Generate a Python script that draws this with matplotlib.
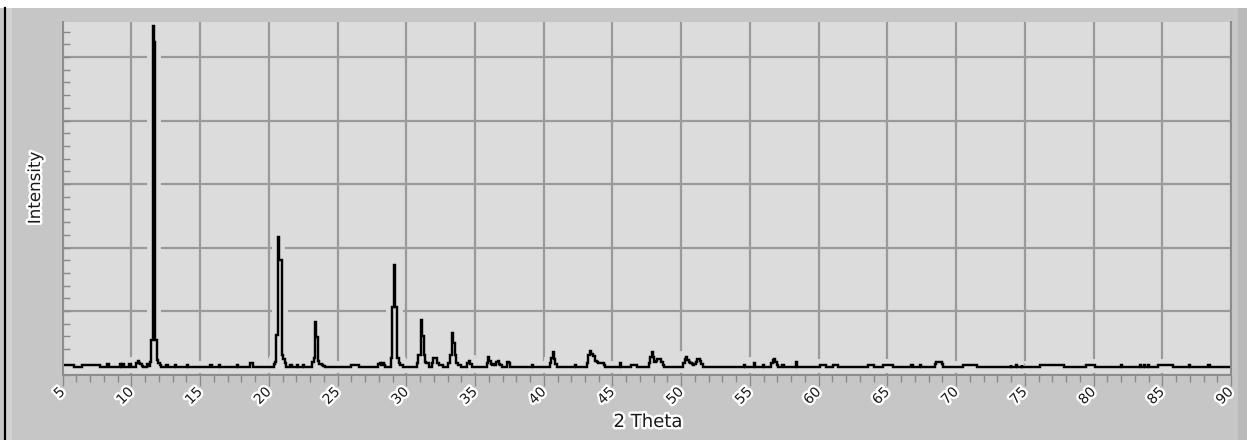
import matplotlib
matplotlib.use("Agg")
import matplotlib.pyplot as plt
import matplotlib.patheffects as pe
from matplotlib.ticker import MultipleLocator
from matplotlib.lines import Line2D
from matplotlib.patches import Rectangle

two_theta = [
    5.0, 5.8, 5.85,
    6.35, 6.4, 7.7, 7.75,
    8.2, 8.3, 8.4,
    9.1, 9.2, 9.3, 9.4, 9.5,
    9.8, 9.9, 10.0,
    10.3, 10.4, 10.5, 10.6, 10.7, 10.8, 10.9,
    11.1, 11.2, 11.3,
    11.4, 11.5, 11.6, 11.7, 11.8, 11.9, 12.0, 12.1, 12.2,
    12.5, 12.6, 12.7,
    13.1, 13.2, 13.3,
    14.0, 14.1, 14.2,
    15.7, 15.8, 15.9,
    16.3, 16.4, 16.5,
    17.6, 17.7, 17.8,
    18.6, 18.7, 18.8, 18.9,
    20.3, 20.4, 20.5, 20.6, 20.7, 20.8, 20.9, 21.0, 21.1, 21.2, 21.3,
    21.5, 21.6, 21.7,
    22.0, 22.1, 22.2,
    22.4, 22.5, 22.6,
    23.1, 23.2, 23.3, 23.4, 23.5, 23.6, 23.7, 23.8, 23.9, 24.0, 24.1,
    25.95, 26.0, 26.5, 26.55,
    27.9, 28.0, 28.1, 28.2, 28.3, 28.4, 28.5,
    28.8, 28.9, 29.0, 29.1, 29.16, 29.22, 29.3, 29.4, 29.5, 29.6, 29.7, 29.8,
    30.7, 30.8, 30.9, 31.0, 31.08, 31.16, 31.24, 31.3, 31.4, 31.5, 31.6, 31.7,
    31.8, 31.9, 32.0, 32.1, 32.2, 32.3, 32.4, 32.5, 32.6, 32.7,
    33.0, 33.1, 33.2, 33.3, 33.38, 33.45, 33.52, 33.6, 33.7, 33.8, 33.9, 34.0,
    34.4, 34.5, 34.6, 34.7, 34.8,
    35.8, 35.9, 36.0, 36.1, 36.2, 36.3, 36.4, 36.5, 36.6, 36.7, 36.8, 36.9, 37.0,
    37.3, 37.4, 37.5, 37.6,
    39.1, 39.2, 39.3,
    40.4, 40.5, 40.6, 40.7, 40.8, 40.9, 41.0,
    42.2, 42.3, 42.4,
    43.1, 43.2, 43.3, 43.4, 43.5, 43.6, 43.7, 43.8, 43.9, 44.0, 44.1, 44.2, 44.3, 44.4, 44.5,
    45.5, 45.6, 45.7,
    46.35, 46.4, 46.75, 46.8,
    47.6, 47.7, 47.8, 47.9, 48.0, 48.1, 48.2, 48.3, 48.4, 48.5, 48.6, 48.7, 48.8,
    50.1, 50.2, 50.3, 50.4, 50.5, 50.6, 50.7, 50.8, 50.9, 51.0, 51.1, 51.2, 51.3, 51.4, 51.5, 51.6,
    54.5, 54.6, 54.7,
    55.25, 55.35, 55.45,
    55.9, 56.0, 56.1,
    56.5, 56.6, 56.7, 56.8, 56.9, 57.0, 57.1,
    57.3, 57.4, 57.5,
    58.3, 58.4, 58.5,
    60.05, 60.1, 60.5, 60.55,
    61.0, 61.05, 61.35, 61.4,
    63.55, 63.6, 64.0, 64.05,
    64.65, 64.7, 65.4, 65.45,
    66.7, 66.8, 66.9,
    67.3, 67.4, 67.5,
    68.4, 68.5, 68.6, 68.7, 68.8, 68.9, 69.0, 69.1,
    70.45, 70.5, 71.5, 71.55,
    73.95, 74.0, 74.05, 74.35, 74.4, 74.45, 74.75, 74.8, 74.85,
    76.05, 76.1, 77.8, 77.85,
    79.45, 79.5, 80.1, 80.15,
    81.95, 82.05, 82.15,
    83.35, 83.4, 83.45, 83.65, 83.7, 83.75, 83.95, 84.0, 84.05,
    84.65, 84.7, 85.75, 85.8,
    86.9, 87.0, 87.1,
    88.3, 88.4, 88.5,
    90.0,
]

intensity = [
    146, 146, 126,
    126, 146, 146, 126,
    126, 165, 126,
    126, 160, 126, 160, 126,
    126, 165, 126,
    126, 180, 217, 175, 160, 140, 126,
    126, 165, 140,
    190, 543, 5493, 5241, 543, 230, 180, 150, 126,
    126, 150, 126,
    126, 150, 126,
    126, 155, 126,
    126, 150, 126,
    126, 150, 126,
    126, 155, 126,
    126, 176, 176, 126,
    126, 160, 200, 622, 2170, 1803, 1803, 307, 250, 180, 126,
    126, 145, 126,
    126, 145, 126,
    126, 145, 126,
    126, 200, 260, 831, 586, 220, 170, 160, 150, 140, 126,
    126, 146, 146, 126,
    126, 170, 181, 150, 181, 150, 126,
    126, 254, 1068, 1068, 1724, 1068, 1068, 254, 180, 155, 150, 126,
    126, 180, 307, 307, 858, 606, 606, 307, 200, 176, 176, 126,
    126, 180, 255, 255, 255, 180, 150, 150, 150, 126,
    126, 180, 307, 307, 649, 491, 491, 307, 180, 150, 150, 126,
    126, 180, 220, 160, 126,
    126, 180, 279, 220, 170, 150, 160, 150, 190, 205, 160, 150, 126,
    126, 190, 184, 126,
    126, 150, 126,
    126, 180, 260, 351, 250, 170, 126,
    126, 150, 126,
    126, 180, 300, 378, 330, 288, 288, 220, 190, 180, 180, 176, 176, 150, 126,
    126, 176, 126,
    126, 146, 146, 126,
    126, 180, 280, 351, 280, 200, 220, 240, 247, 240, 200, 150, 126,
    126, 180, 250, 279, 230, 200, 180, 160, 155, 160, 200, 240, 247, 220, 160, 126,
    126, 150, 126,
    126, 176, 126,
    126, 150, 126,
    126, 180, 230, 247, 200, 150, 126,
    126, 150, 126,
    126, 194, 126,
    126, 146, 146, 126,
    126, 146, 146, 126,
    126, 146, 146, 126,
    126, 146, 146, 126,
    126, 150, 126,
    126, 150, 126,
    126, 170, 190, 200, 200, 190, 170, 126,
    126, 146, 146, 126,
    126, 155, 126, 126, 155, 126, 126, 155, 126,
    126, 146, 146, 126,
    126, 146, 146, 126,
    126, 150, 126,
    126, 155, 126, 126, 155, 126, 126, 155, 126,
    126, 146, 146, 126,
    126, 155, 126,
    126, 155, 126,
    126,
]

x_ticks = list(range(5, 91, 5))
x_tick_labels = [str(v) for v in x_ticks]
x_label = "2 Theta"
y_label = "Intensity"

# ---- styling ----
W, H = 1247, 440
fig_bg = "#c6c6c6"
plot_bg = "#dcdcdc"
grid_col = "#9a9a9a"
glow = [pe.withStroke(linewidth=3.5, foreground="white")]

fig = plt.figure(figsize=(W / 100, H / 100), dpi=100, facecolor=fig_bg)

# frame decorations
fig.add_artist(Rectangle((0, 1 - 8 / H), 1, 8 / H, transform=fig.transFigure,
                         facecolor="white", edgecolor="none", zorder=0))
fig.add_artist(Rectangle((6 / W, 0), 6 / W, 1 - 8 / H, transform=fig.transFigure,
                         facecolor="#d2d2d2", edgecolor="none", zorder=0))
fig.add_artist(Rectangle((1238 / W, 0), 9 / W, 1 - 8 / H, transform=fig.transFigure,
                         facecolor="#b9b9b9", edgecolor="none", zorder=0))
fig.add_artist(Line2D([5 / W, 5 / W], [0, 1 - 8 / H], transform=fig.transFigure,
                      color="black", lw=1.6))

left, right, top, bottom = 62.7, 1231.0, 21.5, 374.5
ax = fig.add_axes([left / W, 1 - bottom / H, (right - left) / W, (bottom - top) / H])
ax.set_facecolor(plot_bg)

ax.plot(two_theta, intensity, drawstyle="steps-mid", color="black", lw=1.6,
        solid_joinstyle="miter",
        path_effects=[pe.withStroke(linewidth=8.5, foreground=plot_bg), pe.Normal()])

ax.set_xlim(5, 90)
ax.set_ylim(0, 5560)

ax.set_xticks(x_ticks)
ax.set_xticklabels(x_tick_labels)
ax.xaxis.set_minor_locator(MultipleLocator(1))
ax.set_yticks(range(0, 6000, 1000))
ax.yaxis.set_minor_locator(MultipleLocator(200))
ax.set_yticklabels([])

ax.grid(True, which="major", color=grid_col, lw=1.6)
ax.set_axisbelow("line")

ax.tick_params(axis="x", which="major", direction="out", length=8, width=1.0,
               color="#8a8a8a", labelsize=10, labelcolor="#1a1a1a", pad=3)
ax.tick_params(axis="x", which="minor", direction="out", length=5, width=1.0,
               color="#8a8a8a")
ax.tick_params(axis="y", which="both", direction="in", length=5, width=1.0,
               color="#8a8a8a", left=True, right=False)

for lbl in ax.get_xticklabels():
    lbl.set_rotation(45)
    lbl.set_rotation_mode("anchor")
    lbl.set_ha("right")
    lbl.set_va("center")
    lbl.set_path_effects(glow)

ax.spines["top"].set_visible(False)
for side in ["left", "bottom", "right"]:
    ax.spines[side].set_color("#8c8c8c")
    ax.spines[side].set_linewidth(1.4)

fig.text(35 / W, 1 - 188 / H, y_label, rotation=90, ha="center", va="center",
         fontsize=12, color="#1a1a1a", path_effects=glow)
fig.text(648 / W, 1 - 422 / H, x_label, ha="center", va="center",
         fontsize=13, color="#1a1a1a", path_effects=glow)

fig.savefig("out.png", dpi=100, facecolor=fig.get_facecolor())
